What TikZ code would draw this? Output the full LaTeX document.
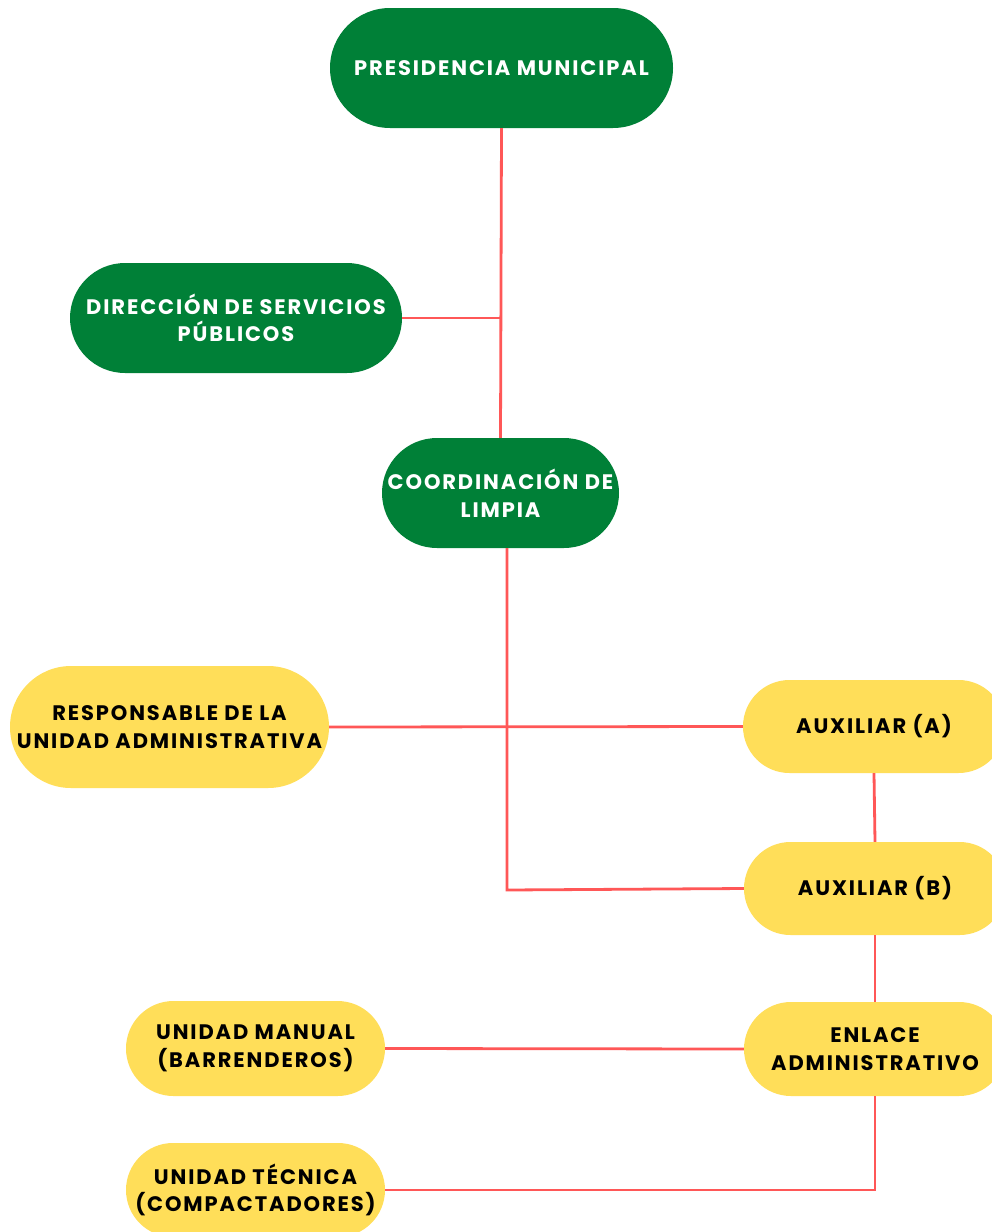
\documentclass[tikz,border=0pt]{standalone}
\usepackage{fontspec}
\setmainfont{Poppins}[LetterSpace=9]
\usetikzlibrary{shapes.misc}
\definecolor{pgreen}{HTML}{008037}
\definecolor{pyellow}{HTML}{FFDE59}
\definecolor{pred}{HTML}{FF5757}
\begin{document}
\begin{tikzpicture}[x=1pt,y=-1pt,
  box/.style={rounded rectangle, inner sep=0pt, align=center, font=\fontsize{21}{27.5}\selectfont\bfseries},
  gbox/.style={box, fill=pgreen, text=white},
  ybox/.style={box, fill=pyellow, text=black},
  link/.style={draw=pred, line width=2.8pt}]
\path[use as bounding box] (0,0) rectangle (992,1232);
\clip (0,0) rectangle (992,1232);
\fill[white] (0,0) rectangle (992,1232);
\coordinate (c1) at (507,890);
% nodes
\node[gbox, minimum width=343pt, minimum height=120pt] (pres) at (501.5,68) {PRESIDENCIA MUNICIPAL};
\node[gbox, minimum width=332pt, minimum height=110pt] (dir) at (236,318) {DIRECCIÓN DE SERVICIOS\\PÚBLICOS};
\node[gbox, minimum width=237pt, minimum height=110pt] (coord) at (500.5,493) {COORDINACIÓN DE\\LIMPIA};
\node[ybox, minimum width=319pt, minimum height=122pt] (resp) at (169.5,727) {RESPONSABLE DE LA\\UNIDAD ADMINISTRATIVA};
\node[ybox, minimum width=262pt, minimum height=93pt] (auxa) at (874,726.5) {AUXILIAR (A)};
\node[ybox, minimum width=262pt, minimum height=93pt] (auxb) at (875,888.5) {AUXILIAR (B)};
\node[ybox, minimum width=262pt, minimum height=94pt] (enl) at (875,1049) {ENLACE\\ADMINISTRATIVO};
\node[ybox, minimum width=259pt, minimum height=95pt] (man) at (255.5,1048.5) {UNIDAD MANUAL\\(BARRENDEROS)};
\node[ybox, minimum width=259pt, minimum height=94pt] (tec) at (255.5,1190) {UNIDAD TÉCNICA\\(COMPACTADORES)};
% connectors
\draw[link] (pres.south) -- (coord.north);
\draw[link] (dir.east) -- (dir.east -| pres.south);
\draw[link] (coord.south -| c1) -- (c1) -- (auxb.west);
\draw[link] (resp.east) -- (auxa.west);
\draw[link] (auxa.south) -- (auxb.north);
\draw[link] (auxb.south) -- (enl.north);
\draw[link] (man.east) -- (enl.west);
\draw[link] (enl.south) -- (enl.south |- tec.east) -- (tec.east);
\end{tikzpicture}
\end{document}
